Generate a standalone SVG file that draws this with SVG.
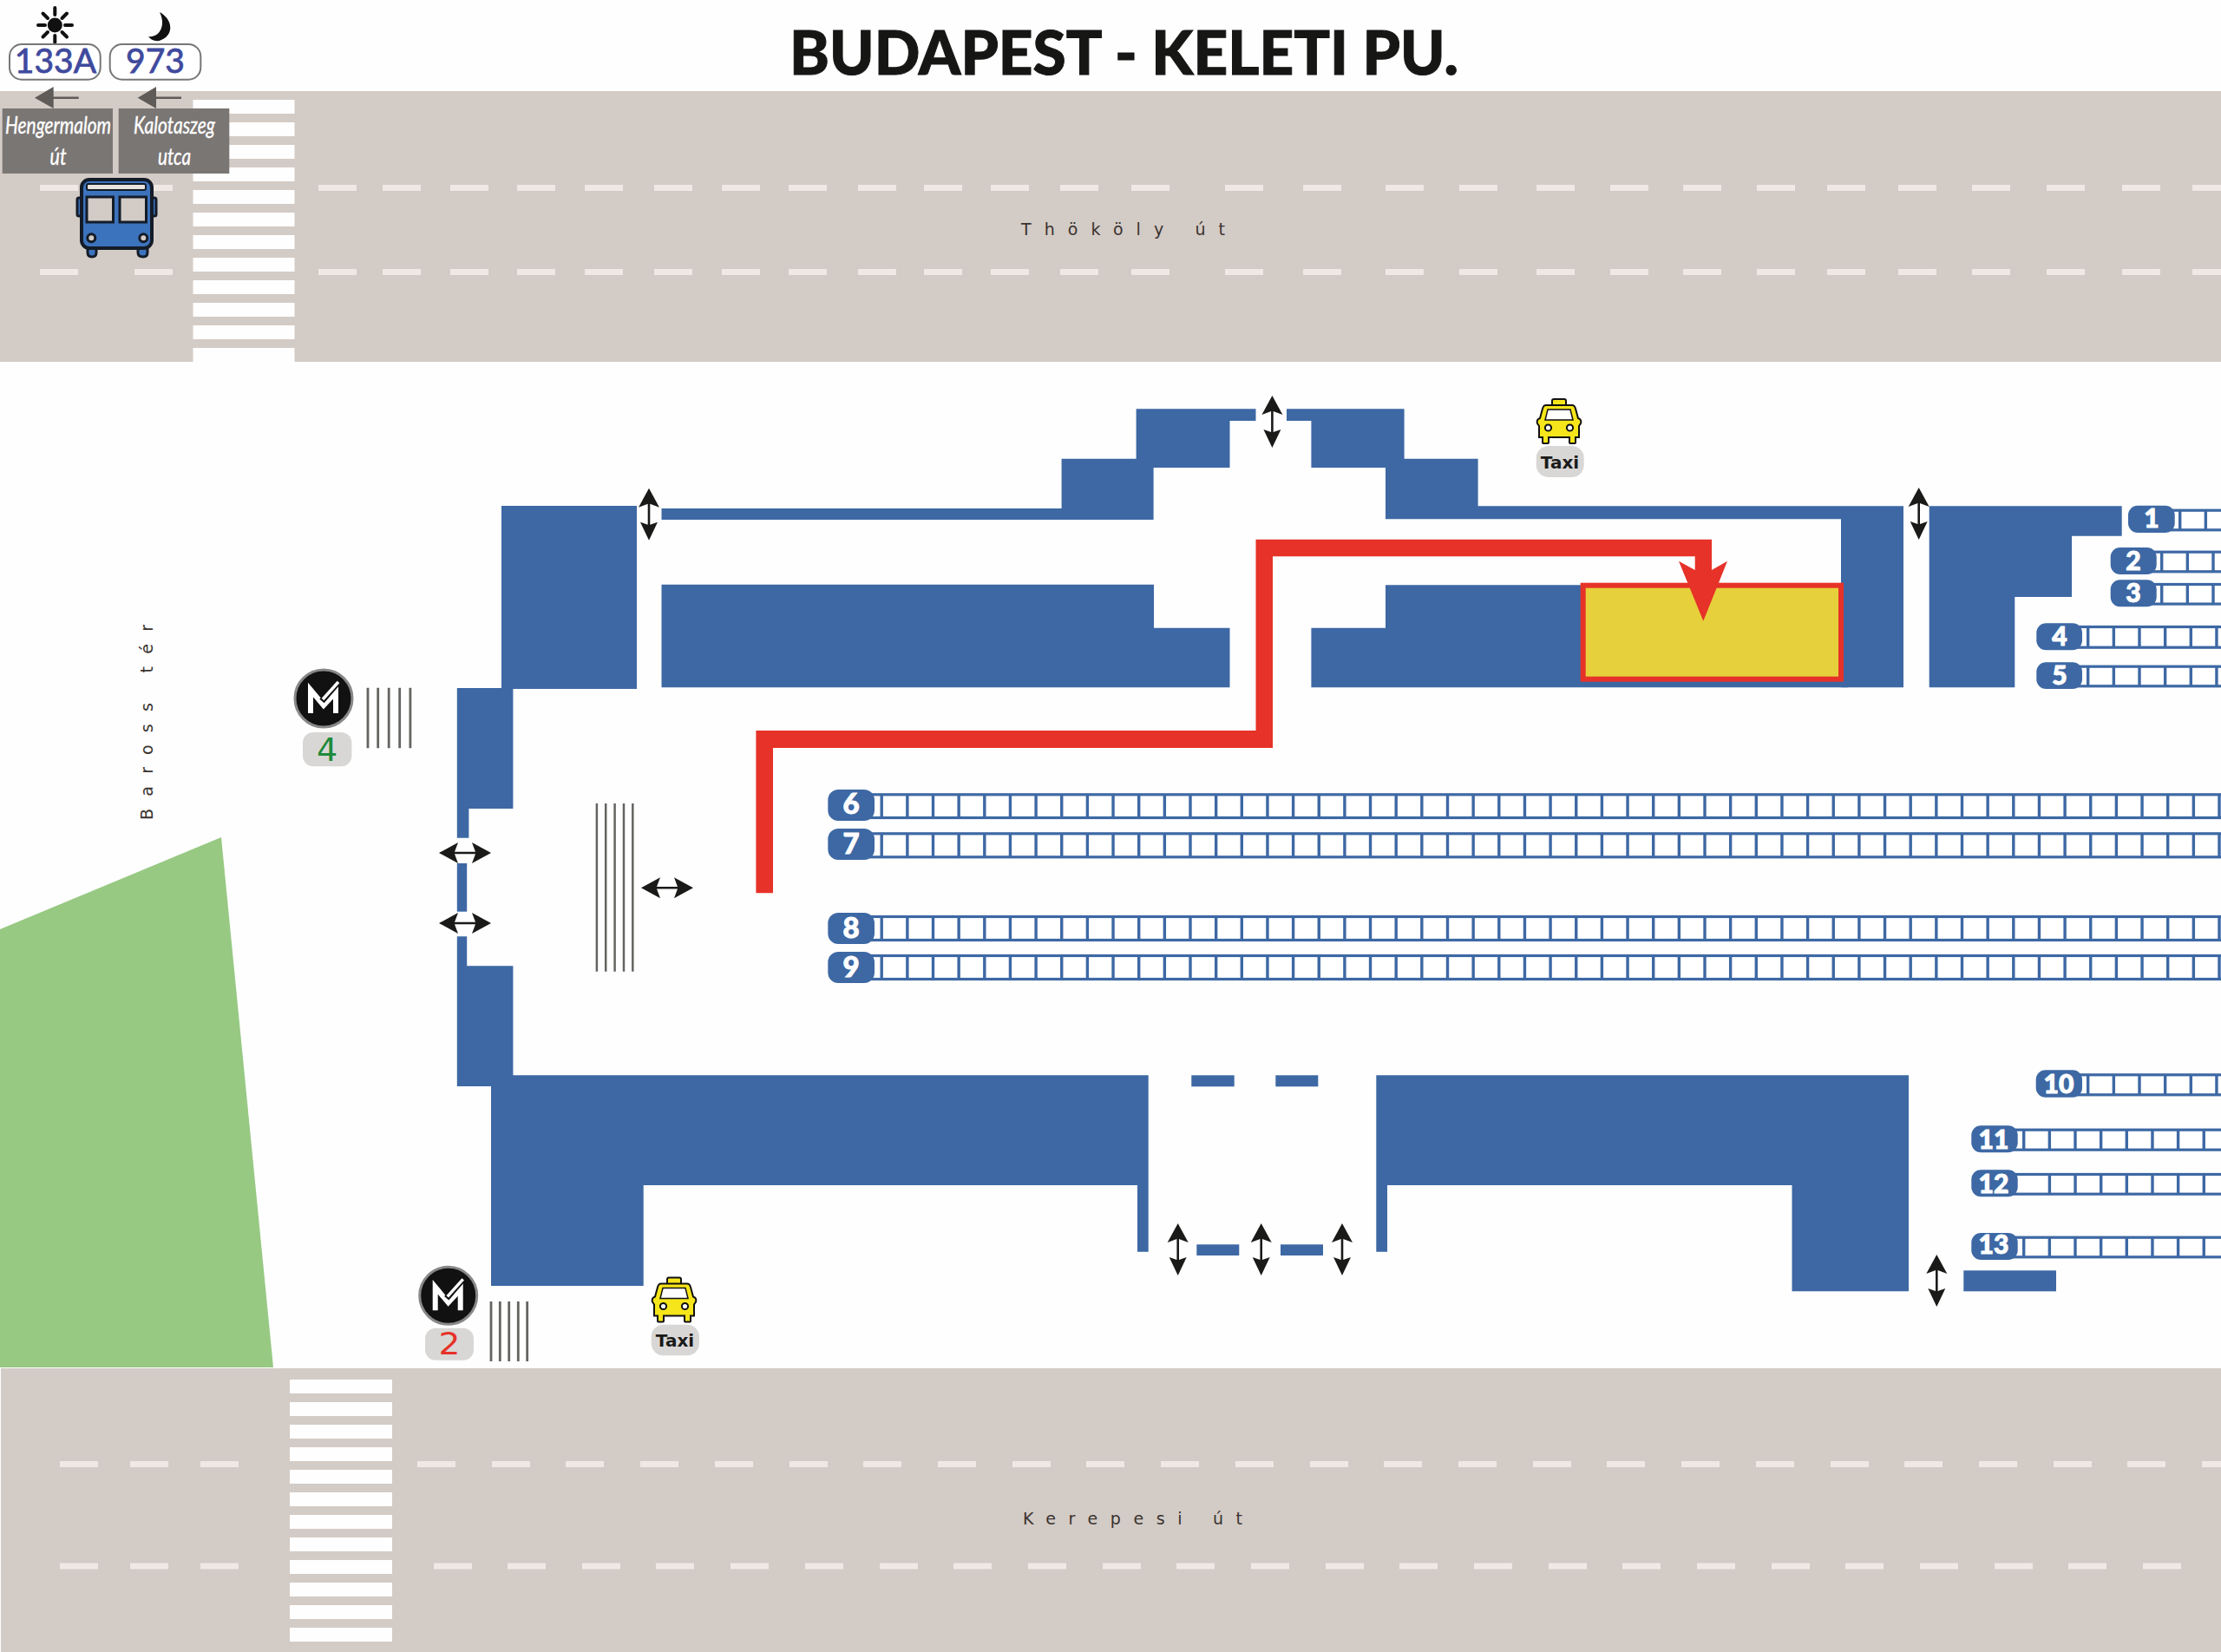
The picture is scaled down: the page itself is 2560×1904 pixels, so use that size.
<svg xmlns="http://www.w3.org/2000/svg" width="2560" height="1904" viewBox="0 0 2560 1904">
<style>
.bg{fill:#fefefe}
.road{fill:#d3cbc5}
.dash{fill:none;stroke:#efe8e4;stroke-width:7}
.zebra{fill:none;stroke:#fefefe;stroke-dasharray:16 10}
.b{fill:#3d68a4}
.rail{fill:#fff;stroke:#3d68a4;stroke-width:3.200}
.tick{stroke:#3d68a4;stroke-dasharray:3.400 26.250;fill:none}
.pill{fill:#3d68a4}
.pn{font-family:Lato,"Liberation Sans",sans-serif;font-weight:900;fill:#fff;stroke:#fff;stroke-width:1;text-anchor:middle;font-size:30px}
.hatch{fill:none;stroke:#666461;stroke-width:2.8}
.roadname{font-family:"DejaVu Sans",sans-serif;font-size:19px;fill:#3a3330}
.sign{fill:#7a7674}
.signt{font-family:Lato,"Open Sans",sans-serif;font-style:italic;font-size:27px;fill:#fff;stroke:#fff;stroke-width:.4;text-anchor:middle}
.route{fill:#fff;stroke:#777;stroke-width:2}
.routet{font-family:Lato,"Liberation Sans",sans-serif;font-size:39px;fill:#3f4a9e;stroke:#3f4a9e;stroke-width:.8;text-anchor:middle}
.badge{fill:#d9d7d5}
.taxit{font-family:"DejaVu Sans",sans-serif;font-size:20px;font-weight:bold;fill:#1a1a1a;text-anchor:middle}
.metro{fill:#111;stroke:#888;stroke-width:3}
.mlogo{fill:none;stroke:#fff;stroke-width:6}
.dark{fill:#1a1a18}
.route-red{fill:#e63228}
.garrow{fill:#5f5b58}
</style>
<defs>
<g id="ah"><path class="dark" d="M-30,0L-8,-12L-12,-1.3H12L8,-12L30,0L8,12L12,1.3H-12L-8,12Z"/></g>
<g id="av"><path class="dark" d="M0,-30L12,-8L1.3,-12V12L10,9L0,30L-10,9L-1.3,12V-12L-12,-8Z"/></g>
<g id="taxi">
<rect x="-8" y="0" width="16" height="8" rx="2" fill="#f6e51a" stroke="#111" stroke-width="2"/>
<path d="M-15,7H15Q18,7 19,11L22,22L24,23Q26,25 25,28L23,31V44H19V50Q19,51 17,51H13Q12,51 12,50V44H-12V50Q-12,51 -13,51H-17Q-19,51 -19,50V44H-23V31L-25,28Q-26,25 -24,23L-22,22L-19,11Q-18,7 -15,7Z" fill="#f6e51a" stroke="#111" stroke-width="2"/>
<path d="M-13,12H13L16,24H-16Z" fill="#fefefe" stroke="#111" stroke-width="1.5"/>
<circle cx="-12.500" cy="33" r="3.600" fill="#fefefe" stroke="#111" stroke-width="2"/>
<circle cx="12.500" cy="33" r="3.600" fill="#fefefe" stroke="#111" stroke-width="2"/>
</g>
<g id="m">
<circle r="33" class="metro"/>
<path class="mlogo" d="M-15,17V-10L0,8L14,-7V17"/>
<path d="M-2,3L17,-19" fill="none" stroke="#111" stroke-width="7"/>
<path d="M-1,1L17,-19" fill="none" stroke="#fff" stroke-width="3.500"/>
</g>
</defs>

<rect class="bg" width="2560" height="1904"/>

<g id="road-thokoly">
<rect class="road" y="105" width="2560" height="312"/>
<line class="zebra" x1="281" y1="115" x2="281" y2="417" stroke-width="117"/>
<path class="dash" d="M46,216.500h44M155,216.500h44M367,216.500h44M441,216.500h44M519,216.500h44M596,216.500h44M674,216.500h44M754,216.500h44M832,216.500h44M909,216.500h44M989,216.500h44M1065,216.500h44M1142,216.500h44M1222,216.500h44M1304,216.500h44M1412,216.500h44M1502,216.500h44M1597,216.500h44M1682,216.500h44M1771,216.500h44M1856,216.500h44M1940,216.500h44M2025,216.500h44M2106,216.500h44M2188,216.500h44M2273,216.500h44M2359,216.500h44M2446,216.500h44M2527,216.500h33"/>
<path class="dash" d="M46,313.500h44M155,313.500h44M367,313.500h44M441,313.500h44M519,313.500h44M596,313.500h44M674,313.500h44M754,313.500h44M832,313.500h44M909,313.500h44M989,313.500h44M1065,313.500h44M1142,313.500h44M1222,313.500h44M1304,313.500h44M1412,313.500h44M1502,313.500h44M1597,313.500h44M1682,313.500h44M1771,313.500h44M1856,313.500h44M1940,313.500h44M2025,313.500h44M2106,313.500h44M2188,313.500h44M2273,313.500h44M2359,313.500h44M2446,313.500h44M2527,313.500h33"/>
<text class="roadname" x="1177" y="271" textLength="235" lengthAdjust="spacing">Thököly út</text>
</g>

<g id="park"><polygon points="0,1071 255,965 315,1576 0,1576" fill="#97c983"/></g>

<g id="road-kerepesi">
<rect class="road" x="1" y="1577" width="2559" height="327"/>
<line class="zebra" x1="393" y1="1590" x2="393" y2="1892" stroke-width="118"/>
<path class="dash" d="M69,1687.500h44M150,1687.500h44M231,1687.500h44M481,1687.500h44M567,1687.500h44M652,1687.500h44M738,1687.500h44M824,1687.500h44M910,1687.500h44M995,1687.500h44M1081,1687.500h44M1167,1687.500h44M1252,1687.500h44M1338,1687.500h44M1424,1687.500h44M1510,1687.500h44M1595,1687.500h44M1681,1687.500h44M1767,1687.500h44M1852,1687.500h44M1938,1687.500h44M2024,1687.500h44M2110,1687.500h44M2195,1687.500h44M2281,1687.500h44M2367,1687.500h44M2452,1687.500h44M2538,1687.500h22"/>
<path class="dash" d="M69,1805h44M150,1805h44M231,1805h44M500,1805h44M585,1805h44M671,1805h44M756,1805h44M842,1805h44M928,1805h44M1014,1805h44M1099,1805h44M1185,1805h44M1271,1805h44M1356,1805h44M1442,1805h44M1528,1805h44M1613,1805h44M1699,1805h44M1785,1805h44M1870,1805h44M1956,1805h44M2042,1805h44M2127,1805h44M2213,1805h44M2299,1805h44M2384,1805h44M2470,1805h44"/>
<text class="roadname" x="1179" y="1757" textLength="253" lengthAdjust="spacing">Kerepesi út</text>
</g>

<text id="square-name" class="roadname" transform="translate(176,945) rotate(-90)" textLength="225" lengthAdjust="spacing">Baross tér</text>

<g id="station-north">
<rect class="b" x="578" y="583" width="156" height="211"/>
<path class="b" d="M762.500,586H1223.600V528.700H1309.600V471.300H1447.500V485H1417.500V539H1329.600V599H762.500Z"/>
<path class="b" d="M1483,471.300H1618.600V528.700H1703.600V583.300H2194V792.300H2122V598.300H1597V539H1511.400V485H1483Z"/>
<path class="b" d="M762.500,673.700H1330V723.700H1417.500V792.300H762.500Z"/>
<path class="b" d="M1511.400,723.700H1597V674.300H2130V792.300H1511.400Z"/>
<path class="b" d="M2223.700,583.300H2445.700V617.700H2388V688H2322.300V792.300H2223.700Z"/>
</g>

<g id="station-west">
<path class="b" d="M526.800,793H591.400V932H540.400V965.700H526.800Z"/>
<rect class="b" x="526.800" y="995" width="11.400" height="55.700"/>
<path class="b" d="M526.800,1079.300H538.200V1113.300H591.400V1252H526.800Z"/>
</g>

<g id="station-south">
<path class="b" d="M566,1239.300H1323.700V1442.700H1311V1366H741.700V1482H566Z"/>
<path class="b" d="M1586.300,1239.300H2200V1488.300H2065.500V1366H1599V1442.700H1586.300Z"/>
<rect class="b" x="1373.300" y="1239.300" width="49.400" height="13"/>
<rect class="b" x="1470.300" y="1239.300" width="49" height="13"/>
<rect class="b" x="1379.300" y="1434.300" width="49" height="12.700"/>
<rect class="b" x="1476" y="1434.300" width="49" height="12.700"/>
<rect class="b" x="2263.300" y="1464.300" width="106.700" height="24"/>
</g>

<g id="platform-1"><rect class="rail" x="2500" y="588.200" width="70" height="22.600"/><line class="tick" x1="2511" y1="599.500" x2="2560" y2="599.500" stroke-width="24"/><rect class="pill" x="2453" y="582.700" width="53.700" height="31.300" rx="11"/><text class="pn" x="2480" y="608">1</text></g>
<g id="platform-2"><rect class="rail" x="2480" y="636.200" width="90" height="22.600"/><line class="tick" x1="2490" y1="647.500" x2="2560" y2="647.500" stroke-width="24"/><rect class="pill" x="2432.700" y="631" width="53" height="31" rx="11"/><text class="pn" x="2459" y="657">2</text></g>
<g id="platform-3"><rect class="rail" x="2480" y="673.500" width="90" height="22.600"/><line class="tick" x1="2490" y1="684.800" x2="2560" y2="684.800" stroke-width="24"/><rect class="pill" x="2432.700" y="668.300" width="53" height="31" rx="11"/><text class="pn" x="2459" y="694">3</text></g>
<g id="platform-4"><rect class="rail" x="2395" y="722.500" width="175" height="23.700"/><line class="tick" x1="2405" y1="734.300" x2="2560" y2="734.300" stroke-width="25"/><rect class="pill" x="2347.300" y="718.300" width="52.700" height="31" rx="11"/><text class="pn" x="2374" y="744">4</text></g>
<g id="platform-5"><rect class="rail" x="2395" y="768.200" width="175" height="22.600"/><line class="tick" x1="2405" y1="779.500" x2="2560" y2="779.500" stroke-width="24"/><rect class="pill" x="2347.300" y="763.300" width="52.700" height="30.700" rx="11"/><text class="pn" x="2374" y="789">5</text></g>

<g id="platform-6"><rect class="rail" x="1003" y="915.800" width="1567" height="26.700"/><line class="tick" x1="1014.500" y1="929" x2="2560" y2="929" stroke-width="28"/><rect class="pill" x="954.300" y="910" width="53.700" height="36" rx="12"/><text class="pn" x="981" y="938" style="font-size:33px">6</text></g>
<g id="platform-7"><rect class="rail" x="1003" y="960.800" width="1567" height="27"/><line class="tick" x1="1014.500" y1="974" x2="2560" y2="974" stroke-width="28"/><rect class="pill" x="954.300" y="955" width="53.700" height="36" rx="12"/><text class="pn" x="981" y="984" style="font-size:33px">7</text></g>
<g id="platform-8"><rect class="rail" x="1003" y="1056.500" width="1567" height="27"/><line class="tick" x1="1014.500" y1="1070" x2="2560" y2="1070" stroke-width="28"/><rect class="pill" x="954.300" y="1052" width="53.700" height="36" rx="12"/><text class="pn" x="981" y="1081" style="font-size:33px">8</text></g>
<g id="platform-9"><rect class="rail" x="1003" y="1101.500" width="1567" height="27"/><line class="tick" x1="1014.500" y1="1115" x2="2560" y2="1115" stroke-width="28"/><rect class="pill" x="954.300" y="1097" width="53.700" height="36" rx="12"/><text class="pn" x="981" y="1126" style="font-size:33px">9</text></g>

<g id="platform-10"><rect class="rail" x="2395" y="1238.800" width="175" height="23"/><line class="tick" x1="2405" y1="1250.300" x2="2560" y2="1250.300" stroke-width="24"/><rect class="pill" x="2346.700" y="1233.300" width="53.300" height="31.400" rx="11"/><text class="pn" x="2373" y="1260">10</text></g>
<g id="platform-11"><rect class="rail" x="2320" y="1302.200" width="250" height="23"/><line class="tick" x1="2331" y1="1313.700" x2="2560" y2="1313.700" stroke-width="24"/><rect class="pill" x="2272.300" y="1297.300" width="53.400" height="31" rx="11"/><text class="pn" x="2298" y="1324">11</text></g>
<g id="platform-12"><rect class="rail" x="2320" y="1353.500" width="250" height="22.700"/><line class="tick" x1="2360.700" y1="1365" x2="2560" y2="1365" stroke-width="24"/><rect class="pill" x="2272.300" y="1348.300" width="53.400" height="31" rx="11"/><text class="pn" x="2298" y="1375">12</text></g>
<g id="platform-13"><rect class="rail" x="2320" y="1426.200" width="250" height="22.600"/><line class="tick" x1="2331" y1="1437.500" x2="2560" y2="1437.500" stroke-width="24"/><rect class="pill" x="2272.300" y="1421" width="53.400" height="31" rx="11"/><text class="pn" x="2298" y="1445">13</text></g>

<g id="destination"><rect x="1824.700" y="674.700" width="297.300" height="108" fill="#e6d03c" stroke="#e63228" stroke-width="6"/></g>

<g id="metro-4">
<use href="#m" x="373" y="805"/>
<rect class="badge" x="349" y="844" width="56.400" height="39.300" rx="12"/>
<text x="377" y="876.500" font-family="'DejaVu Sans',sans-serif" font-size="38" fill="#1e8a3c" text-anchor="middle">4</text>
<path class="hatch" d="M424,792.700V862.300M435.700,792.700V862.300M448.200,792.700V862.300M460.700,792.700V862.300M472.900,792.700V862.300"/>
</g>
<g id="metro-2">
<use href="#m" x="516.700" y="1493.300"/>
<rect class="badge" x="490" y="1530.700" width="56" height="37" rx="12"/>
<text x="518" y="1560.700" font-family="'DejaVu Sans',sans-serif" font-size="35" fill="#e63228" text-anchor="middle" textLength="25" lengthAdjust="spacingAndGlyphs">2</text>
<path class="hatch" d="M566,1500V1569M576.300,1500V1569M586.700,1500V1569M597.300,1500V1569M607.700,1500V1569"/>
</g>
<g id="entrance-lines"><path class="hatch" style="stroke-width:2.5" d="M687.900,926V1119.700M698.200,926V1119.700M708.600,926V1119.700M719,926V1119.700M729.300,926V1119.700"/></g>

<g id="taxi-north">
<use href="#taxi" x="1797" y="460"/>
<rect class="badge" x="1770.700" y="514" width="55" height="36" rx="14"/>
<text class="taxit" x="1798" y="540">Taxi</text>
</g>
<g id="taxi-south">
<use href="#taxi" x="777" y="1472.500"/>
<rect class="badge" x="750.700" y="1526.700" width="55.300" height="35.600" rx="14"/>
<text class="taxit" x="778" y="1552.300">Taxi</text>
</g>

<g id="sign-hengermalom">
<rect class="sign" x="2.700" y="125" width="127.300" height="75"/>
<text class="signt" x="67" y="154" textLength="122" lengthAdjust="spacingAndGlyphs">Hengermalom</text>
<text class="signt" x="67" y="190" textLength="19" lengthAdjust="spacingAndGlyphs">út</text>
<polygon class="garrow" points="40,112.700 61.700,100 61.700,111.500 90.700,111.500 90.700,114 61.700,114 61.700,125"/>
</g>
<g id="sign-kalotaszeg">
<rect class="sign" x="136.700" y="125" width="127.600" height="75"/>
<text class="signt" x="201" y="154" textLength="94" lengthAdjust="spacingAndGlyphs">Kalotaszeg</text>
<text class="signt" x="201" y="190" textLength="38" lengthAdjust="spacingAndGlyphs">utca</text>
<polygon class="garrow" points="158.700,112.700 180,100 180,111.500 209,111.500 209,114 180,114 180,125"/>
</g>

<g id="route-133A">
<g stroke="#111" stroke-width="4" stroke-linecap="round" fill="none"><path d="M63.300,9V17M63.300,41V49M44,29H52M75,29H83M49.500,15.500L55,21M71.500,37L77,42.500M49.500,42.500L55,37M71.500,21L77,15.500"/></g>
<circle cx="63.300" cy="29" r="8.500" fill="#111"/>
<rect class="route" x="11" y="51" width="104.700" height="40.700" rx="14"/>
<text class="routet" x="64" y="84">133A</text>
</g>
<g id="route-973">
<path d="M184,14C199,22 201,40 186,46C180,49 174,46 171,42C183,44 192,30 184,14Z" fill="#111"/>
<rect class="route" x="126.700" y="51" width="104.600" height="40.700" rx="14"/>
<text class="routet" x="179" y="84">973</text>
</g>

<g id="bus">
<rect x="89" y="228" width="8" height="21" rx="2" fill="#3c73bd" stroke="#141c28" stroke-width="3"/>
<rect x="172" y="228" width="8" height="21" rx="2" fill="#3c73bd" stroke="#141c28" stroke-width="3"/>
<path d="M101,284V291Q101,296 106,296Q111,296 111,291V284ZM159,284V291Q159,296 165,296Q170,296 170,291V284Z" fill="#3c73bd" stroke="#141c28" stroke-width="3"/>
<rect x="94" y="207" width="81" height="79" rx="9" fill="#3c73bd" stroke="#141c28" stroke-width="4"/>
<rect x="100" y="212" width="68" height="7" rx="2" fill="#e8e4e0" stroke="#141c28" stroke-width="2"/>
<rect x="100" y="227" width="30.500" height="29" fill="#d3cbc5" stroke="#141c28" stroke-width="3"/>
<rect x="138" y="227" width="30.500" height="29" fill="#d3cbc5" stroke="#141c28" stroke-width="3"/>
<circle cx="105.300" cy="274.300" r="4.500" fill="#d3cbc5" stroke="#141c28" stroke-width="3"/>
<circle cx="165.300" cy="274.300" r="4.500" fill="#d3cbc5" stroke="#141c28" stroke-width="3"/>
</g>

<g id="connectors">
<path id="walking-route" class="route-red" d="M871.400,1029.300V842H1447.500V621.700H1973V657L1991,646.700L1963.300,715.700L1935,646.700L1953.700,657V641.300H1467V862H891V1029.300Z"/>
<use href="#ah" x="536" y="983"/>
<use href="#ah" x="536" y="1064"/>
<use href="#ah" x="769" y="1023.300"/>
<use href="#av" x="748" y="592.700"/>
<use href="#av" x="1466.400" y="486"/>
<use href="#av" x="2211.700" y="592"/>
<use href="#av" x="1357.700" y="1440"/>
<use href="#av" x="1453.700" y="1440"/>
<use href="#av" x="1547" y="1440"/>
<use href="#av" x="2232.300" y="1476"/>
</g>

<text id="title" x="910" y="86" font-family="Lato,'Open Sans',sans-serif" font-weight="900" font-size="71" fill="#161615" stroke="#161615" stroke-width="1" textLength="771" lengthAdjust="spacingAndGlyphs">BUDAPEST - KELETI PU.</text>
</svg>
